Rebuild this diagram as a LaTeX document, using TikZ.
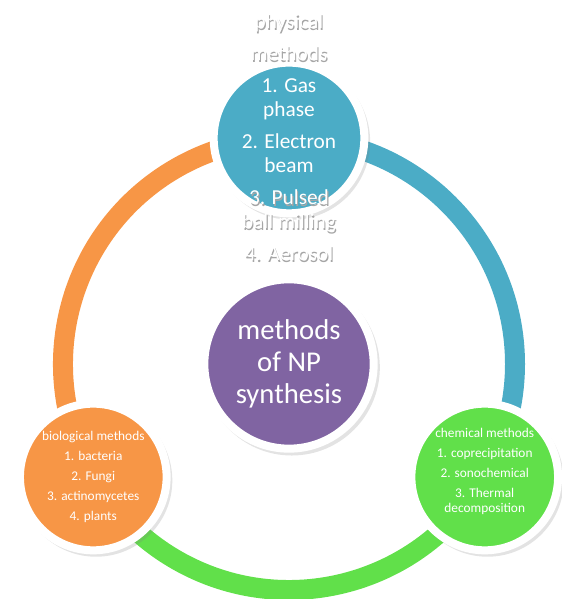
\documentclass[tikz,border=0pt]{standalone}
\usepackage{fontspec}
\setmainfont{Carlito}
\usepackage{tikz}
\usetikzlibrary{shadows}
\definecolor{npblue}{HTML}{4BACC6}
\definecolor{nporange}{HTML}{F79646}
\definecolor{npgreen}{HTML}{61E04A}
\definecolor{nppurple}{HTML}{8064A2}
\newcommand{\glowline}[1]{\leavevmode\rlap{\kern0.8pt\raisebox{-1.2pt}{\textcolor{black!35}{#1}}}#1}
\tikzset{
  ringArc/.style={line width=15pt},
  methodDisc/.style={circle, draw=white, line width=6pt, inner sep=0pt,
    drop shadow={opacity=0.22, shadow xshift=2pt, shadow yshift=-2.5pt, shadow scale=1.04}},
  discText/.style={text=white, align=center, inner sep=0pt}
}

\begin{document}
\begin{tikzpicture}[x=0.75pt,y=0.75pt]
  \useasboundingbox (0,0) rectangle (561,599);
  \coordinate (hub) at (289,235);
  \coordinate (phys) at ([shift={(90:226)}]hub);
  \coordinate (chem) at ([shift={(-30:226)}]hub);
  \coordinate (bio) at ([shift={(210:226)}]hub);
  % ring
  \draw[ringArc, nporange] (bio) arc[start angle=210, end angle=90, radius=226];
  \draw[ringArc, npblue] (phys) arc[start angle=90, end angle=-30, radius=226];
  \draw[ringArc, npgreen] (chem) arc[start angle=-30, end angle=-150, radius=226];
  % discs
  \node[methodDisc, fill=npblue, minimum size=113pt] (physDisc) at (phys) {};
  \node[methodDisc, fill=npgreen, minimum size=110pt] (chemDisc) at (chem) {};
  \node[methodDisc, fill=nporange, minimum size=110pt] (bioDisc) at (bio) {};
  \node[methodDisc, fill=nppurple, minimum size=127pt] (npDisc) at (hub) {};
  % texts
  \node[discText, font=\fontsize{16}{18}\selectfont] (physText) at (physDisc)
    {\glowline{physical}\\[6pt]\glowline{methods}\\[6pt]1. Gas\\phase\\[6pt]
     2. Electron\\beam\\[6pt]\glowline{3. Pulsed}\\\glowline{ball milling}\\[6pt]\glowline{4. Aerosol}};
  \node[discText, font=\fontsize{10}{11.25}\selectfont] (chemText) at ([yshift=4.5pt]chemDisc)
    {chemical methods\\[3.75pt]1. coprecipitation\\[3.75pt]2. sonochemical\\[3.75pt]3. Thermal\\decomposition};
  \node[discText, font=\fontsize{10}{15}\selectfont] (bioText) at (bioDisc)
    {biological methods\\1. bacteria\\2. Fungi\\3. actinomycetes\\4. plants};
  \node[discText, font=\fontsize{21.5}{24}\selectfont] (npText) at (npDisc)
    {methods\\of NP\\synthesis};
\end{tikzpicture}
\end{document}
